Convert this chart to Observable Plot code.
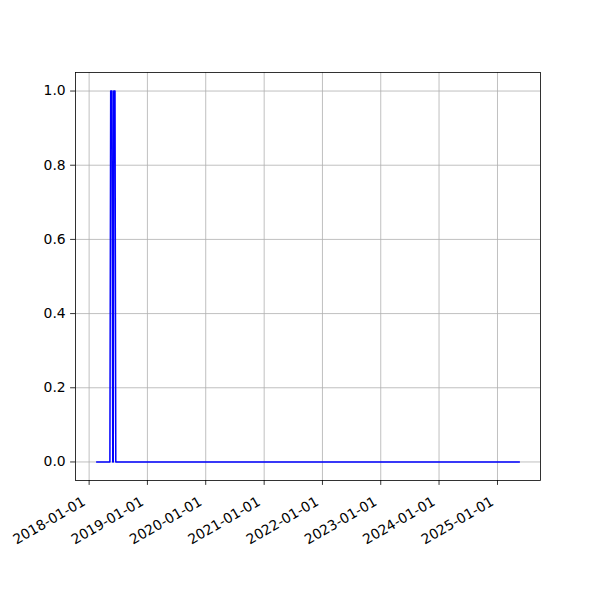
<!DOCTYPE html>
<html>
<head>
<meta charset="utf-8">
<script src="https://cdn.jsdelivr.net/npm/d3@7"></script>
<script src="https://cdn.jsdelivr.net/npm/@observablehq/plot@0.6"></script>
<style>
  html, body { margin: 0; padding: 0; background: #fff; }
  #chart svg { display: block; }
</style>
</head>
<body>
<div id="chart"></div>
<script>
// Series breakpoints (value steps between these dates are flat lines)
const dates = [
  "2018-02-17", "2018-05-11", "2018-05-16", "2018-05-24", "2018-05-29",
  "2018-06-01", "2018-06-04", "2018-06-12", "2018-06-17", "2025-05-18"
];
const values = [0, 0, 1, 1, 0, 0, 1, 1, 0, 0];
const yTicks = [0, 0.2, 0.4, 0.6, 0.8, 1.0];
const xTickYears = ["2018-01-01", "2019-01-01", "2020-01-01", "2021-01-01",
  "2022-01-01", "2023-01-01", "2024-01-01", "2025-01-01"];

const data = dates.map((d, i) => ({date: new Date(d + "T00:00:00Z"), value: values[i]}));
const xTicks = xTickYears.map(d => new Date(d + "T00:00:00Z"));

// matplotlib-style 5% padding
const [x0, x1] = d3.extent(data, d => +d.date);
const padX = (x1 - x0) * 0.05;
const [y0, y1] = d3.extent(values);
const padY = (y1 - y0) * 0.05;

const fmtDate = d3.utcFormat("%Y-%m-%d");

const chart = Plot.plot({
  width: 600,
  height: 600,
  marginLeft: 75,
  marginRight: 60,
  marginTop: 72,
  marginBottom: 120,
  style: {fontFamily: "DejaVu Sans", fontSize: "13.9px", color: "black", background: "white"},
  x: {type: "utc", domain: [new Date(x0 - padX), new Date(x1 + padX)]},
  y: {domain: [y0 - padY, y1 + padY]},
  marks: [
    Plot.gridX(xTicks, {stroke: "#b0b0b0", strokeOpacity: 1, strokeWidth: 0.8}),
    Plot.gridY(yTicks, {stroke: "#b0b0b0", strokeOpacity: 1, strokeWidth: 0.8}),
    Plot.line(data, {x: "date", y: "value", stroke: "blue", strokeWidth: 1.5, curve: "linear"}),
    Plot.frame({stroke: "black", strokeWidth: 0.8}),
    Plot.axisY({ticks: yTicks, tickFormat: d3.format(".1f"), tickSize: 4.9, tickPadding: 4.9, label: null, strokeWidth: 0.8}),
    Plot.axisX({ticks: xTicks, tickFormat: () => "", tickSize: 4.9, label: null, strokeWidth: 0.8}),
    Plot.axisX({ticks: xTicks, tickFormat: fmtDate, tickSize: 0, tickPadding: 0, tickRotate: -30, label: null, dx: -5, dy: 20})
  ]
});
document.getElementById("chart").appendChild(chart);
</script>
</body>
</html>
